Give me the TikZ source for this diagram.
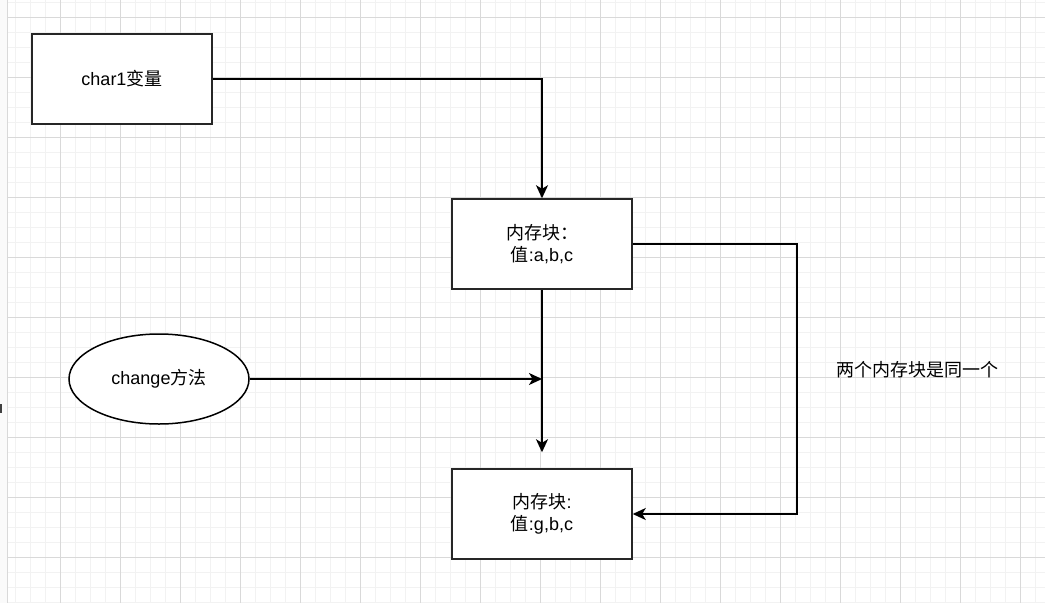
\documentclass[tikz,border=0pt]{standalone}
\usepackage{fontspec}
\setmainfont{Liberation Sans}
\newfontfamily\cjk{Noto Sans CJK SC}
\usetikzlibrary{arrows.meta,shapes.geometric}
\begin{document}
\begin{tikzpicture}[x=1pt,y=-1pt,
  minorline/.style={draw=black!5, line width=1pt},
  majorline/.style={draw=black!15, line width=1pt},
  box/.style={draw=black!85, line width=1.5pt, fill=white, minimum width=180pt, minimum height=90pt, inner sep=0pt, font=\fontsize{18}{22}\selectfont, align=center},
  oval/.style={ellipse, draw=black, line width=1.5pt, fill=white, minimum width=180pt, minimum height=90pt, inner sep=0pt, font=\fontsize{18}{22}\selectfont},
  conn/.style={draw=black, line width=1.5pt, -{Stealth[length=13pt,width=12pt,inset=3.5pt]}},
  lbl/.style={font=\fontsize{18}{22}\selectfont, inner sep=0pt}]
\useasboundingbox (0,0) rectangle (1045,603);
\fill[white] (0,0) rectangle (1045,603);
\fill[black!2] (0,0) rectangle (7,603);
% grid
\foreach \x in {15,30,...,1035} \draw[minorline] (\x,0) -- (\x,603);
\foreach \y in {2,17,...,602} \draw[minorline] (7,\y) -- (1045,\y);
\foreach \x in {60,120,...,1020} \draw[majorline] (\x,0) -- (\x,603);
\foreach \y in {17,77,...,557} \draw[majorline] (7,\y) -- (1045,\y);
\draw[majorline] (7,0) -- (7,603);
\fill[black!75] (0,404) rectangle (1.5,413);
% nodes
\node[box] (c1) at (122,79) {char1{\cjk 变量}};
\node[box] (b1) at (542,244) {{\cjk 内存块：}\\{\cjk 值}:a,b,c};
\node[box] (b2) at (542,514) {{\cjk 内存块}:\\{\cjk 值}:g,b,c};
\node[oval] (ell) at (159,379) {change{\cjk 方法}};
\node[lbl] (note) at (917,370) {\cjk 两个内存块是同一个};
\coordinate (rt) at (797,0);
\coordinate (mid) at (b1.south |- ell.east);
% connectors
\draw[conn] (c1.east) -| (b1.north);
\draw[conn, shorten >=16pt] (b1.south) -- (b2.north);
\draw[conn] (ell.east) -- (mid);
\draw[conn] (b1.east) -- (b1.east -| rt) |- (b2.east);
\end{tikzpicture}
\end{document}
